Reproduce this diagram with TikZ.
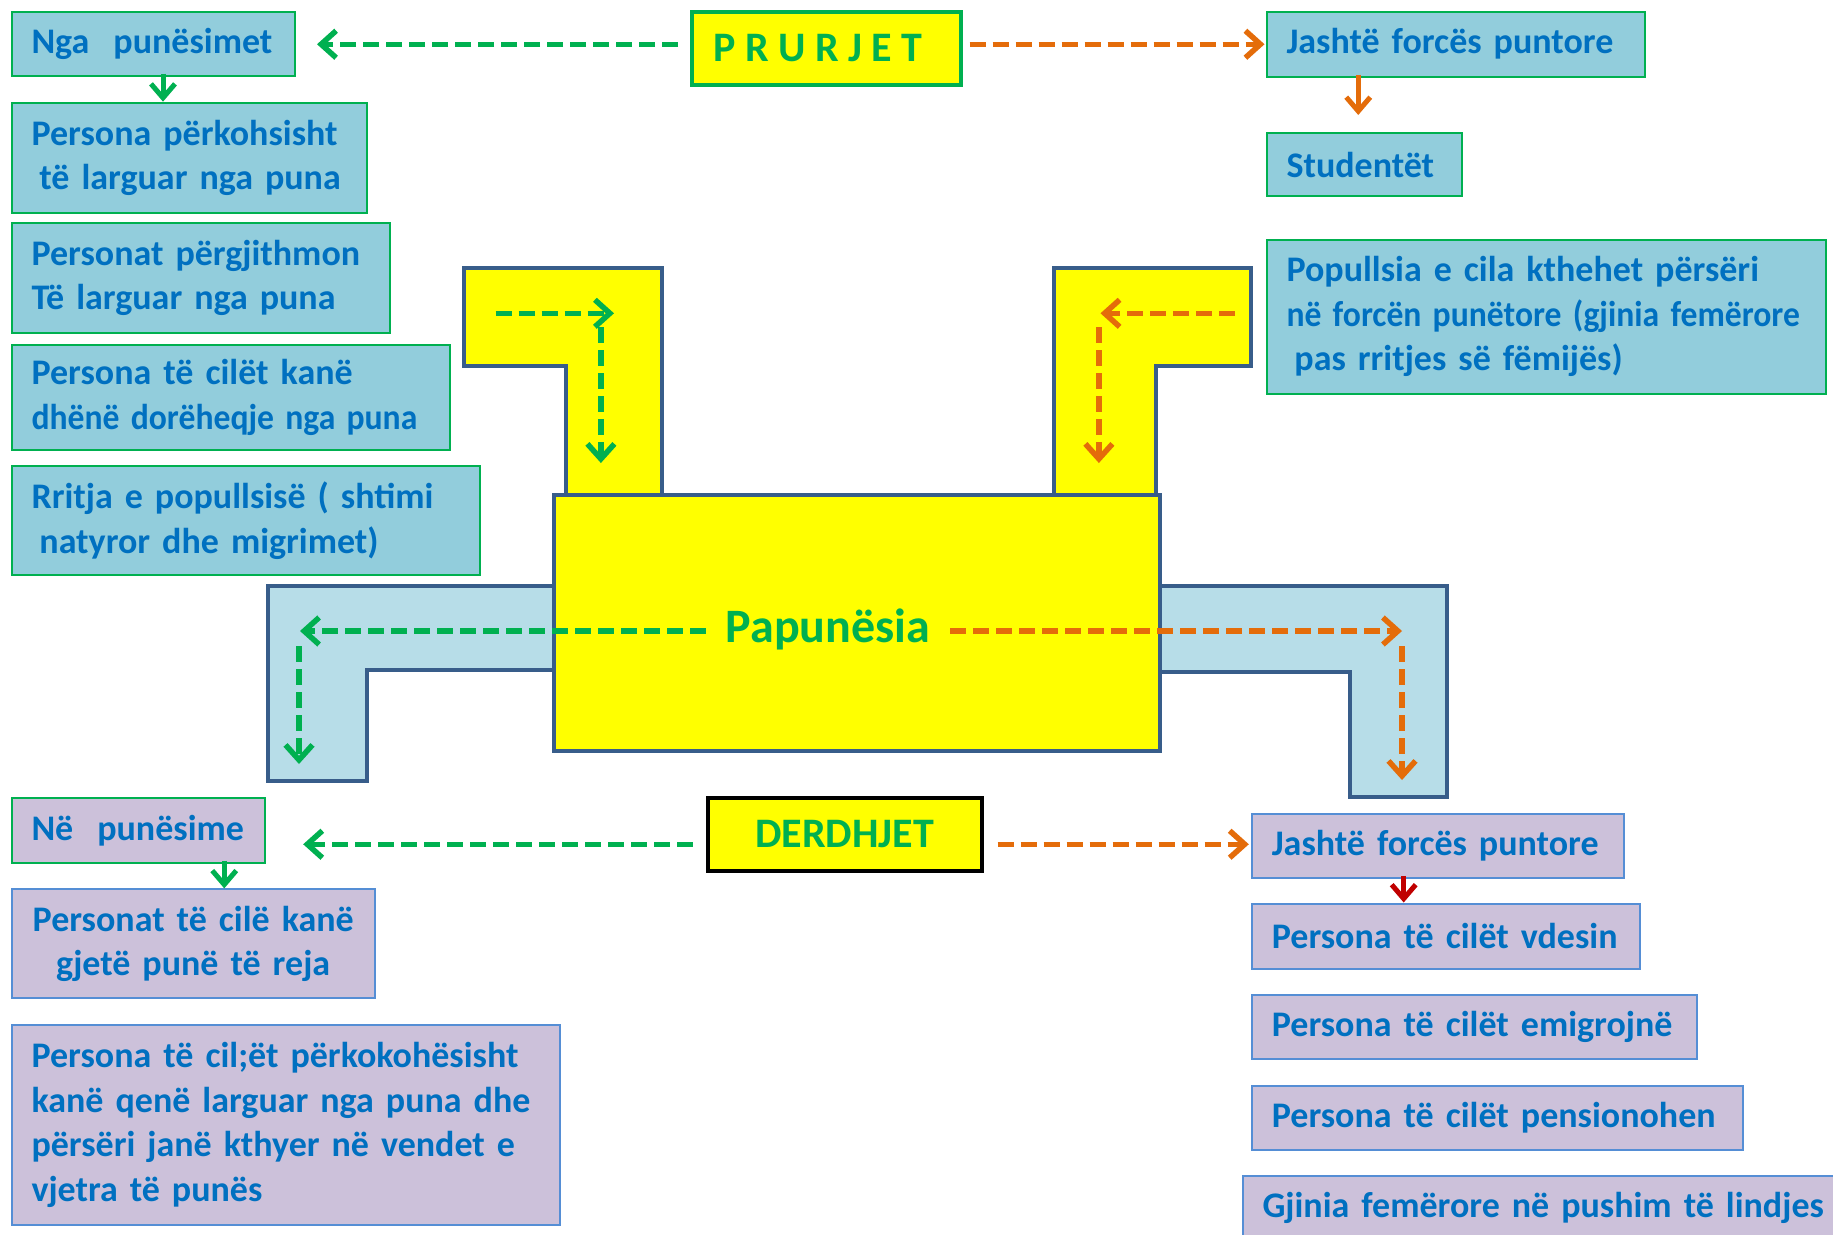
\documentclass[tikz,border=0pt]{standalone}
\usepackage{fontspec}
\usepackage{graphicx}
\setmainfont{Carlito}
\usetikzlibrary{arrows.meta}
\definecolor{boxblue}{HTML}{92CDDC}
\definecolor{boxpurple}{HTML}{CCC1DA}
\definecolor{txtblue}{HTML}{0070C0}
\definecolor{mygreen}{HTML}{00B050}
\definecolor{myorange}{HTML}{E46C0A}
\definecolor{myred}{HTML}{C00000}
\definecolor{edgeblue}{HTML}{385D8A}
\definecolor{purpleedge}{HTML}{558ED5}
\definecolor{lblue}{HTML}{B7DDE8}
\definecolor{myyellow}{HTML}{FFFF00}
\newcommand\oneline[1]{\mbox{#1}}
\newcommand\narrowline[1]{\scalebox{0.935}[1]{#1}}
\begin{document}
\begin{tikzpicture}[x=1pt,y=-1pt,
  box/.style={draw, anchor=north west, inner xsep=20pt, inner ysep=0pt, align=left,
    font=\fontsize{36}{44.5}\selectfont\bfseries, text=txtblue, line width=2pt},
  bluebox/.style={box, fill=boxblue, draw=mygreen},
  purplebox/.style={box, fill=boxpurple, draw=purpleedge},
  titlebox/.style={draw, anchor=north west, inner sep=0pt, fill=myyellow, line width=4pt,
    text=mygreen, font=\fontsize{42}{48}\selectfont\bfseries},
  shapeline/.style={draw=edgeblue, line width=4pt, line join=miter},
  dline/.style={line width=5.5pt, dash pattern=on 16pt off 7pt,
    -{Straight Barb[length=15pt,width=27pt]}},
  gdash/.style={dline, draw=mygreen},
  odash/.style={dline, draw=myorange},
  sarrow/.style={line width=5pt, -{Straight Barb[length=14pt,width=24pt]}},
]
\useasboundingbox (0,0) rectangle (1833,1234);
\fill[white] (0,0) rectangle (1833,1234);

% --- central shapes ---
\draw[shapeline, fill=lblue] (267.7,585.7) -- (554.1,585.7) -- (554.1,669.8) -- (367,669.8) -- (367,780.9) -- (267.7,780.9) -- cycle;
\draw[shapeline, fill=lblue] (1159.6,585.7) -- (1447.2,585.7) -- (1447.2,797.3) -- (1350.2,797.3) -- (1350.2,672.2) -- (1159.6,672.2) -- cycle;
\draw[shapeline, fill=myyellow] (464,267.7) -- (661.7,267.7) -- (661.7,494.5) -- (565.8,494.5) -- (565.8,366) -- (464,366) -- cycle;
\draw[shapeline, fill=myyellow] (1054.4,267.7) -- (1250.8,267.7) -- (1250.8,366) -- (1156.1,366) -- (1156.1,494.5) -- (1054.4,494.5) -- cycle;
\draw[shapeline, fill=myyellow] (554.1,494.5) rectangle (1159.6,750.5);

% --- left top boxes ---
\node[bluebox, minimum width=283, minimum height=64, text width=243] (nga) at (10.5,10.5) {\oneline{Nga\ \ punësimet}};
\node[bluebox, minimum width=355.5, minimum height=110, text width=315.5] (p1) at (10.5,101.7) {\oneline{Persona përkohsisht}\\\oneline{\hspace*{0.22em}të larguar nga puna}};
\node[bluebox, minimum width=378.5, minimum height=110, text width=338.5] (p2) at (10.5,222) {\oneline{Personat përgjithmon}\\\oneline{Të larguar nga puna}};
\node[bluebox, minimum width=438.5, minimum height=105.5, text width=398.5] (p3) at (10.5,343.7) {\oneline{Persona të cilët kanë}\\\narrowline{dhënë dorëheqje nga puna}};
\node[bluebox, minimum width=468.5, minimum height=109, text width=428.5] (p4) at (10.5,465) {\oneline{Rritja e popullsisë ( shtimi}\\\oneline{\hspace*{0.22em}natyror dhe migrimet)}};

% --- titles ---
\node[titlebox, draw=mygreen, minimum width=269, minimum height=73.5] (prurjet) at (689.5,9.5) {P R U R J E T\kern16pt};
\node[titlebox, draw=black, minimum width=274, minimum height=72.5] (derdhjet) at (705.5,796) {DERDHJET};
\node[inner xsep=20pt, inner ysep=0pt, text=mygreen, font=\fontsize{48}{56}\selectfont\bfseries] (pap) at (828,629) {Papunësia};

% --- right top boxes ---
\node[bluebox, minimum width=378, minimum height=65, text width=338] (jf1) at (1265.5,10.5) {\oneline{Jashtë forcës puntore}};
\node[bluebox, minimum width=195.5, minimum height=63, text width=155.5] (stud) at (1265.5,132) {\oneline{Studentët}};
\node[bluebox, minimum width=559.5, minimum height=154, text width=519.5] (pop) at (1265.5,238.5) {\oneline{Popullsia e cila kthehet përsëri}\\\narrowline{në forcën punëtore (gjinia femërore}\\\oneline{\hspace*{0.22em}pas rritjes së fëmijës)}};

% --- bottom left boxes ---
\node[purplebox, draw=mygreen, minimum width=253.7, minimum height=64.2, text width=213.7] (nep) at (10.5,797.3) {\oneline{Në\ \ punësime}};
\node[purplebox, align=center, minimum width=363.5, minimum height=108.6, text width=323.5] (pg) at (10.5,888.4) {\oneline{Personat të cilë kanë}\\\oneline{gjetë punë të reja}};
\node[purplebox, minimum width=548.3, minimum height=200, text width=508.3] (pk) at (10.5,1024) {\oneline{Persona të cil;ët përkokohësisht}\\\oneline{kanë qenë larguar nga puna dhe}\\\oneline{përsëri janë kthyer në vendet e}\\\oneline{vjetra të punës}};

% --- bottom right boxes ---
\node[purplebox, minimum width=371.8, minimum height=64.3, text width=331.8] (jf2) at (1250.8,812.5) {\oneline{Jashtë forcës puntore}};
\node[purplebox, minimum width=388.2, minimum height=65.5, text width=348.2] (vd) at (1250.8,902.5) {\oneline{Persona të cilët vdesin}};
\node[purplebox, minimum width=445.4, minimum height=64.3, text width=405.4] (em) at (1250.8,993.7) {\oneline{Persona të cilët emigrojnë}};
\node[purplebox, minimum width=491, minimum height=64.2, text width=451] (pen) at (1250.8,1084.8) {\oneline{Persona të cilët pensionohen}};
\node[purplebox, minimum width=620, minimum height=64, text width=580] (gj) at (1241.5,1175) {\oneline{Gjinia femërore në pushim të lindjes}};

% --- coordinates inside the shapes ---
\coordinate (a1s) at (495.7,313.3);
\coordinate (a1e) at (614,313.3);
\coordinate (a2s) at (600.9,327);
\coordinate (a2e) at (600.9,463);
\coordinate (b1s) at (1234.5,313.3);
\coordinate (b1e) at (1100.5,313.3);
\coordinate (b2s) at (1098.9,327.3);
\coordinate (b2e) at (1098.9,463);
\coordinate (c1e) at (300,631);
\coordinate (c2s) at (299,646);
\coordinate (c2e) at (299,764);
\coordinate (d1e) at (1402,631);
\coordinate (d2s) at (1402,646);
\coordinate (d2e) at (1402,780);

% --- dashed flows ---
\draw[gdash, shorten <=11.5pt, shorten >=21.5pt] ([yshift=4pt]prurjet.west) -- ([yshift=4pt]prurjet.west -| nga.east);
\draw[odash, shorten <=7pt, shorten >=1pt] ([yshift=4pt]prurjet.east) -- ([yshift=4pt]prurjet.east -| jf1.west);
\draw[gdash] (a1s) -- (a1e);
\draw[gdash] (a2s) -- (a2e);
\draw[odash] (b1s) -- (b1e);
\draw[odash] (b2s) -- (b2e);
\draw[gdash] (pap.west |- c1e) -- (c1e);
\draw[gdash] (c2s) -- (c2e);
\draw[odash] (pap.east |- d1e) -- (d1e);
\draw[odash] (d2s) -- (d2e);
\draw[gdash, shorten <=13pt, shorten >=37pt] ([yshift=-10pt]derdhjet.west) -- ([yshift=-10pt]derdhjet.west -| nep.east);
\draw[odash, shorten <=14pt, shorten >=2pt] ([yshift=-10pt]derdhjet.east) -- ([yshift=-10pt]derdhjet.east -| jf2.west);

% --- solid arrows ---
\draw[sarrow, draw=mygreen] ([xshift=10pt,yshift=3pt]nga.south) -- ([xshift=10pt]nga.south |- p1.north);
\draw[sarrow, draw=myorange, shorten >=17pt] ([xshift=-6pt,yshift=3pt]stud.north |- jf1.south) -- ([xshift=-6pt]stud.north);
\draw[sarrow, draw=mygreen] ([xshift=31pt,yshift=3pt]pg.north |- nep.south) -- ([xshift=31pt]pg.north);
\draw[sarrow, draw=myred] ([xshift=-34pt,yshift=3pt]jf2.south) -- ([xshift=-34pt]jf2.south |- vd.north);
\end{tikzpicture}
\end{document}
